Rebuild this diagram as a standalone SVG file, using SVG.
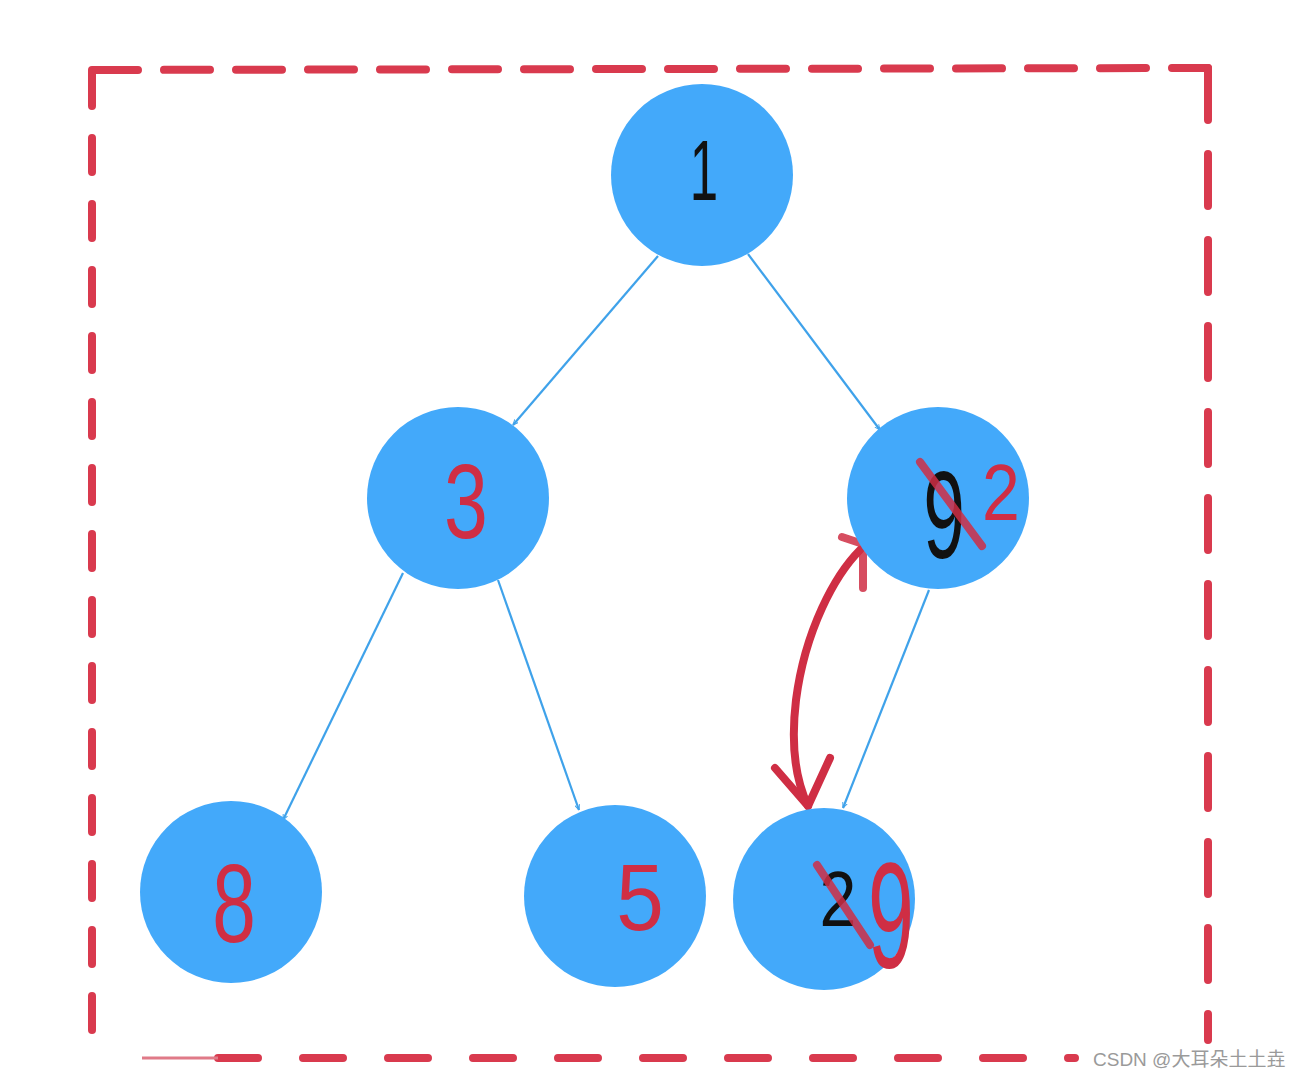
<svg xmlns="http://www.w3.org/2000/svg" width="1300" height="1079" viewBox="0 0 1300 1079">
<style>
.node{fill:#43A9FA}
.edge{stroke:#3FA2EA;stroke-width:2.2;fill:none;marker-end:url(#ah)}
.border{stroke:#D93A4E;stroke-width:8;fill:none;stroke-linecap:round}
.red{fill:#CF2E44}
.blk{fill:#111}
.digit{font-family:"Liberation Sans",Arial,sans-serif;text-anchor:middle}
.rstroke{stroke:#CF2E44;stroke-width:8;fill:none;stroke-linecap:round;stroke-linejoin:round}
.wm{font-family:"Liberation Sans","Noto Sans CJK SC",sans-serif;font-size:19px;fill:#9a9a9a}
</style>
<defs>
<marker id="ah" viewBox="0 0 10 10" refX="9" refY="5" markerWidth="6" markerHeight="6" orient="auto" markerUnits="userSpaceOnUse">
<path d="M0,1 L9,5 L0,9" fill="none" stroke="#3FA2EA" stroke-width="1.6"/>
</marker>
</defs>
<rect width="1300" height="1079" fill="#fff"/>
<g id="border">
<line class="border" x1="92" y1="70" x2="1208" y2="68" stroke-dasharray="46 26"/>
<line class="border" x1="92" y1="72" x2="92" y2="1050" stroke-dasharray="34 32"/>
<line class="border" x1="1208" y1="68" x2="1208" y2="1040" stroke-dasharray="52 34"/>
<line class="border" x1="218" y1="1058" x2="1075" y2="1058" stroke-dasharray="40 45"/>
<line x1="142" y1="1058" x2="218" y2="1058" stroke="#E07A88" stroke-width="3"/>
</g>
<g id="connectors">
<line class="edge" x1="658" y1="256" x2="513" y2="425"/>
<line class="edge" x1="748" y1="254" x2="880" y2="430"/>
<line class="edge" x1="403" y1="573" x2="283" y2="820"/>
<line class="edge" x1="498" y1="580" x2="579" y2="810"/>
<line class="edge" x1="929" y1="590" x2="843" y2="808"/>
<g id="swap">
<path class="rstroke" d="M860,550 C835,575 805,630 796,700 C790,750 798,785 808,806" stroke-width="6"/>
<path class="rstroke" d="M842,537 L863,544 L863,588" stroke-width="5" opacity="0.85"/>
<path class="rstroke" d="M775,768 L808,806 L830,758" stroke-width="5"/>
</g>
</g>
<g id="node-1">
<circle class="node" cx="702" cy="175" r="91"/>
<text class="digit blk" transform="translate(704,200) scale(0.6,1)" font-size="85">1</text>
</g>
<g id="node-3">
<circle class="node" cx="458" cy="498" r="91"/>
<text class="digit red" transform="translate(466,538) scale(0.75,1)" font-size="105">3</text>
</g>
<g id="node-92">
<circle class="node" cx="938" cy="498" r="91"/>
<text class="digit blk" transform="translate(944,558) scale(0.6,1)" font-size="125">9</text>
<line class="rstroke" x1="920" y1="462" x2="982" y2="546" opacity="0.85"/>
<text class="digit red" transform="translate(1001,520) scale(0.85,1)" font-size="80">2</text>
</g>
<g id="node-8">
<circle class="node" cx="231" cy="892" r="91"/>
<text class="digit red" transform="translate(234,942) scale(0.7,1)" font-size="112">8</text>
</g>
<g id="node-5">
<circle class="node" cx="615" cy="896" r="91"/>
<text class="digit red" transform="translate(640,930) scale(0.9,1)" font-size="95">5</text>
</g>
<g id="node-29">
<circle class="node" cx="824" cy="899" r="91"/>
<text class="digit blk" transform="translate(838,926) scale(0.85,1)" font-size="78">2</text>
<line class="rstroke" x1="817" y1="865" x2="870" y2="945" opacity="0.85"/>
<text class="digit red" transform="translate(891,968) scale(0.55,1)" font-size="150">9</text>
</g>
<text class="wm" x="1093" y="1066">CSDN @大耳朵土土垚</text>
</svg>
